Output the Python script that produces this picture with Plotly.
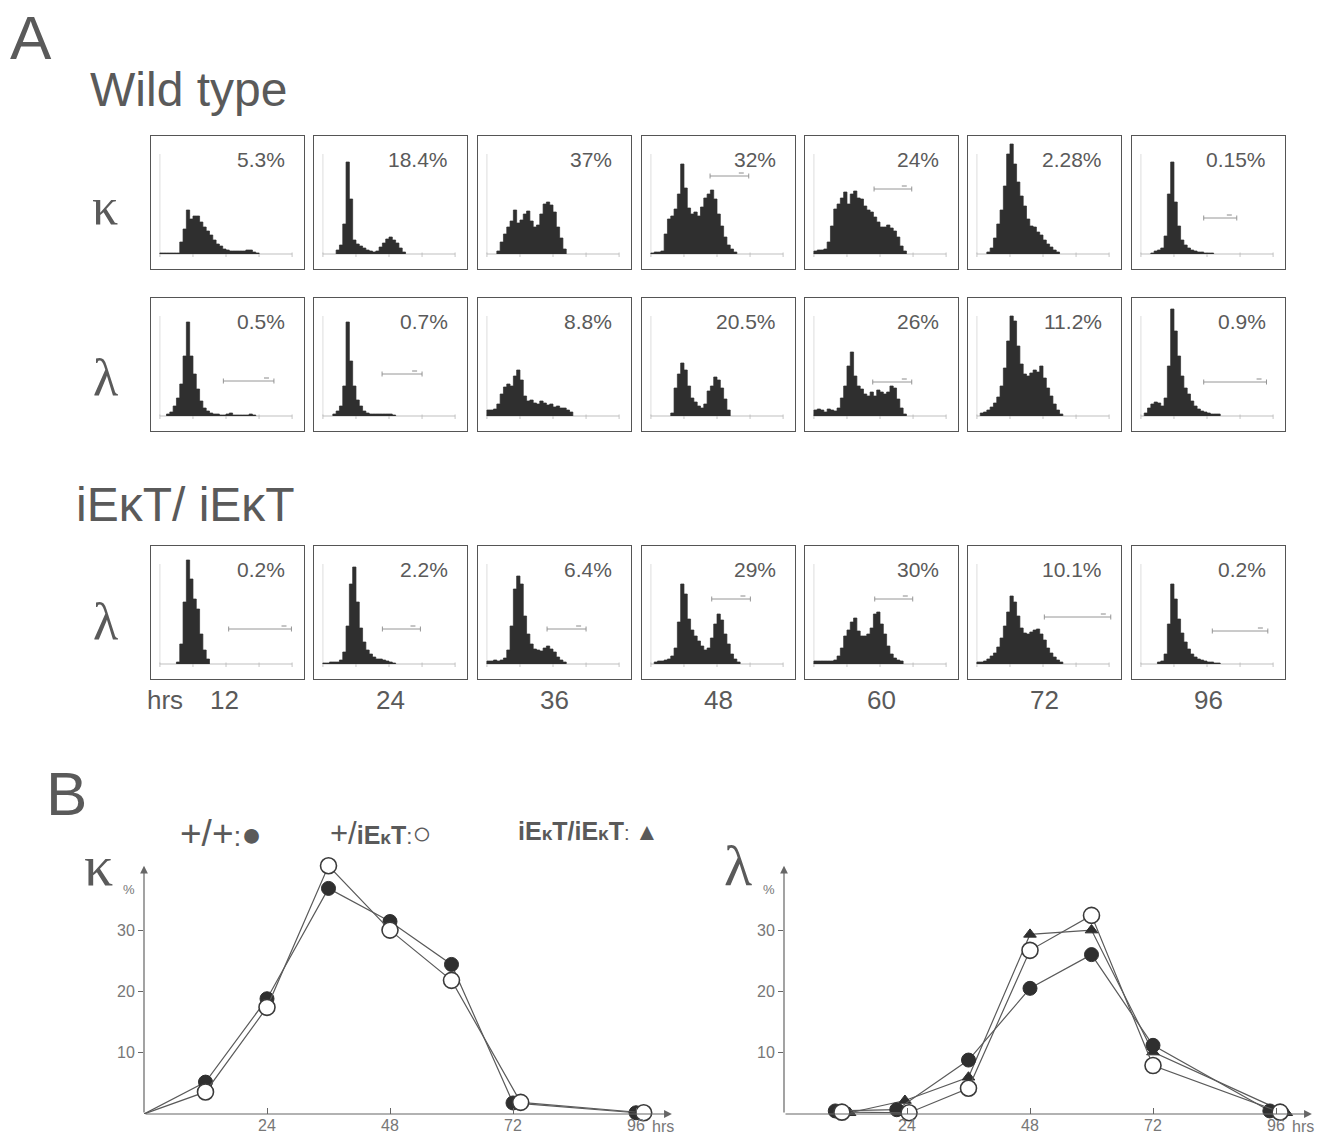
import plotly.graph_objects as go

W, H = 1329, 1138

# ---------------- data ----------------
hour_labels = ["12", "24", "36", "48", "60", "72", "96"]
row_labels = ["κ", "λ", "λ"]

pct_wt_kappa = ["5.3%", "18.4%", "37%", "32%", "24%", "2.28%", "0.15%"]
pct_wt_lambda = ["0.5%", "0.7%", "8.8%", "20.5%", "26%", "11.2%", "0.9%"]
pct_ko_lambda = ["0.2%", "2.2%", "6.4%", "29%", "30%", "10.1%", "0.2%"]

# FACS histograms: first bin (log10 decades) and counts per 0.1-decade bin
hist_wt_kappa_start = [0.0, 0.4, 0.3, 0.0, 0.0, 0.3, 0.3]
hist_wt_kappa = [
    [1, 1, 1, 1, 1, 1, 12, 25, 44, 35, 38, 38, 32, 27, 23, 19, 14, 10, 8, 5, 4, 3, 3, 3, 3, 3, 4, 4, 2, 1],
    [4, 9, 30, 92, 55, 14, 10, 8, 6, 4, 3, 2, 3, 7, 11, 15, 17, 14, 11, 6, 2],
    [3, 12, 20, 27, 33, 44, 31, 34, 40, 43, 33, 27, 29, 40, 50, 52, 49, 42, 27, 16, 5],
    [1, 2, 2, 3, 20, 35, 38, 45, 60, 90, 66, 46, 40, 42, 38, 47, 56, 60, 64, 55, 40, 28, 17, 9, 5, 2],
    [3, 4, 4, 5, 12, 28, 45, 50, 56, 62, 50, 60, 63, 56, 55, 48, 44, 42, 37, 32, 27, 27, 29, 26, 23, 17, 8, 3],
    [2, 6, 16, 30, 44, 68, 100, 110, 90, 72, 58, 48, 35, 28, 27, 22, 19, 14, 10, 7, 4, 2],
    [1, 3, 4, 6, 18, 60, 92, 52, 28, 14, 9, 6, 4, 3, 2, 2, 1, 1, 1],
]
hist_wt_lambda_start = [0.2, 0.3, 0.0, 0.6, 0.0, 0.1, 0.1]
hist_wt_lambda = [
    [2, 4, 10, 18, 32, 60, 94, 60, 42, 27, 15, 8, 5, 3, 2, 2, 1, 1, 2, 3, 1, 1, 1, 1, 1, 2, 1],
    [2, 5, 10, 30, 94, 55, 30, 16, 10, 5, 3, 2, 2, 2, 2, 2, 2, 2, 1],
    [6, 6, 7, 12, 22, 29, 32, 30, 40, 46, 36, 20, 15, 16, 13, 12, 15, 13, 11, 12, 9, 10, 8, 8, 6, 4],
    [3, 28, 42, 53, 46, 30, 18, 14, 10, 8, 12, 25, 30, 39, 36, 28, 17, 6],
    [6, 7, 6, 4, 7, 6, 5, 8, 18, 30, 50, 64, 40, 30, 27, 22, 20, 24, 20, 26, 24, 22, 24, 30, 28, 17, 8, 2],
    [3, 4, 6, 9, 13, 19, 30, 48, 75, 100, 95, 70, 52, 42, 40, 43, 46, 44, 50, 38, 28, 20, 12, 6, 2],
    [3, 8, 12, 14, 13, 10, 18, 50, 107, 85, 60, 40, 28, 22, 15, 10, 7, 5, 4, 3, 2, 2, 2],
]
hist_ko_lambda_start = [0.5, 0.0, 0.0, 0.1, 0.0, 0.0, 0.5]
hist_ko_lambda = [
    [2, 20, 62, 104, 85, 65, 55, 30, 14, 5],
    [1, 1, 2, 2, 2, 4, 12, 38, 80, 97, 62, 36, 22, 14, 10, 7, 5, 5, 4, 3, 2, 1],
    [3, 3, 4, 3, 4, 6, 14, 38, 75, 88, 80, 48, 30, 20, 15, 14, 13, 16, 18, 15, 12, 7, 4, 2],
    [2, 3, 3, 4, 5, 8, 16, 42, 80, 70, 45, 34, 28, 23, 18, 14, 16, 26, 40, 50, 44, 30, 20, 10, 5, 2],
    [3, 3, 3, 3, 3, 3, 4, 8, 16, 28, 34, 42, 46, 33, 28, 28, 30, 36, 50, 52, 40, 30, 18, 10, 6, 4, 3],
    [2, 2, 3, 5, 8, 11, 17, 26, 38, 52, 68, 62, 48, 36, 31, 30, 32, 34, 35, 30, 24, 16, 11, 7, 4, 2],
    [2, 3, 10, 40, 80, 65, 45, 31, 22, 15, 10, 7, 5, 4, 3, 2, 2, 1, 1],
]
# marker gates: (from decade, to decade, level) or None
gates_wt_kappa = [None, None, None, (1.79, 2.96, 78), (1.82, 2.96, 65), None, (1.9, 2.9, 36)]
gates_wt_lambda = [(1.92, 3.45, 35), (1.79, 3.0, 42), None, None, (1.78, 2.96, 34), None, (1.9, 3.8, 34)]
gates_ko_lambda = [(2.08, 3.98, 35), (1.8, 2.95, 35), (1.82, 3.0, 35), (1.84, 3.01, 65),
                   (1.84, 2.99, 65), (2.04, 4.05, 47), (2.16, 3.84, 33)]
BIN = 0.1

# Panel B: % positive cells vs hours (plotted hour positions)
kappa_wt_x = [0, 12, 24, 36, 48, 60, 72, 96]
kappa_wt = [0, 5.2, 18.8, 36.8, 31.4, 24.4, 1.8, 0.2]
kappa_het_x = [0, 12, 24, 36, 48, 60, 73.5, 97.5]
kappa_het = [0, 3.6, 17.4, 40.5, 30.0, 21.8, 1.9, 0.2]

lambda_wt_x = [10, 22, 36, 48, 60, 72, 94.8]
lambda_wt = [0.5, 0.7, 8.8, 20.5, 26.0, 11.2, 0.5]
lambda_het_x = [11.3, 24.4, 36, 48, 60, 72, 96.8]
lambda_het = [0.3, 0.2, 4.2, 26.7, 32.4, 7.9, 0.3]
lambda_ko_x = [12.8, 23.6, 36, 48, 60, 72, 98]
lambda_ko = [0.2, 2.2, 6.0, 29.3, 30.0, 10.1, 0.2]

b_tickvals = [24, 48, 72, 96]
b_yticks = [10, 20, 30]

# ---------------- styling ----------------
TEXT = "#5a5a5a"
BOX = "#555555"
HIST = "#2f2f2f"
FAINT = "#b8b8b8"
SANS = "Liberation Sans, Arial, sans-serif"
SERIF = "Liberation Serif, DejaVu Serif, serif"

col_left = [151, 314, 478, 642, 805, 968, 1132]
row_top = [136, 298, 546]
box_w, box_h = 153, 133

fig = go.Figure()
axes = {}
shapes = []
ann = []


def px_x(px):
    return px / W


def px_y(py):
    return 1 - py / H


def text(t, x, y, size, xanchor="left", yanchor="middle", color=TEXT, family=SANS):
    ann.append(dict(text=t, x=px_x(x), y=px_y(y), xref="paper", yref="paper",
                    xanchor=xanchor, yanchor=yanchor, showarrow=False,
                    font=dict(size=size, color=color, family=family)))


rows = [
    (hist_wt_kappa_start, hist_wt_kappa, pct_wt_kappa, gates_wt_kappa),
    (hist_wt_lambda_start, hist_wt_lambda, pct_wt_lambda, gates_wt_lambda),
    (hist_ko_lambda_start, hist_ko_lambda, pct_ko_lambda, gates_ko_lambda),
]

n = 0
for r, (starts, hists, pcts, gates) in enumerate(rows):
    for c in range(7):
        n += 1
        xa = "xaxis" if n == 1 else f"xaxis{n}"
        ya = "yaxis" if n == 1 else f"yaxis{n}"
        xr = "x" if n == 1 else f"x{n}"
        yr = "y" if n == 1 else f"y{n}"
        left, top = col_left[c], row_top[r]
        common = dict(showline=True, mirror=True, linecolor=BOX, linewidth=1.3,
                      showticklabels=False, ticks="", showgrid=False, zeroline=False,
                      fixedrange=True)
        axes[xa] = dict(domain=[px_x(left), px_x(left + box_w)], range=[-0.27, 4.36],
                        anchor=yr, **common)
        axes[ya] = dict(domain=[px_y(top + box_h), px_y(top)], range=[-15, 118],
                        anchor=xr, **common)
        # faint inner FACS axes
        shapes.append(dict(type="line", xref=xr, yref=yr, x0=0, x1=4, y0=0, y1=0,
                           line=dict(color=FAINT, width=0.9), layer="below"))
        shapes.append(dict(type="line", xref=xr, yref=yr, x0=0, x1=0, y0=0, y1=100,
                           line=dict(color="#d4d4d4", width=0.8), layer="below"))
        for d in range(5):
            shapes.append(dict(type="line", xref=xr, yref=yr, x0=d, x1=d, y0=-3, y1=1.5,
                               line=dict(color=FAINT, width=0.8), layer="below"))
        s = starts[c]
        counts = hists[c]
        xs = [s] + [s + i * BIN for i in range(len(counts) + 1)]
        ys = [0] + counts + [0]
        fig.add_trace(go.Scatter(x=xs, y=ys, xaxis=xr, yaxis=yr, mode="lines",
                                 line=dict(width=0.7, color=HIST, shape="hv"),
                                 fill="tozeroy", fillcolor=HIST, hoverinfo="skip",
                                 showlegend=False))
        g = gates[c]
        if g is not None:
            g0, g1, lv = g
            shapes.append(dict(type="line", xref=xr, yref=yr, x0=g0, x1=g1, y0=lv, y1=lv,
                               line=dict(color="#8a8a8a", width=0.9)))
            for gx in (g0, g1):
                shapes.append(dict(type="line", xref=xr, yref=yr, x0=gx, x1=gx,
                                   y0=lv - 2.5, y1=lv + 2.5,
                                   line=dict(color="#8a8a8a", width=0.9)))
            shapes.append(dict(type="line", xref=xr, yref=yr, x0=g1 - 0.3, x1=g1 - 0.15,
                               y0=lv + 3, y1=lv + 3, line=dict(color="#8a8a8a", width=1)))
        text(pcts[c], left + box_w - 17, top + 23, 21, xanchor="right")

# Panel A labels
text("A", 8, 38, 62)
text("Wild type", 88, 90, 48)
text("iEκT/ iEκT", 74, 505, 48)
label_y = [206, 377, 621]
for r in range(3):
    text(row_labels[r], 105, label_y[r], 52, xanchor="center", family=SERIF)
text("hrs", 145, 700, 26)
for c in range(7):
    cx = col_left[c] + box_w / 2 + (-3 if c == 0 else 0)
    text(hour_labels[c], cx, 700, 26, xanchor="center")

# ---------------- Panel B ----------------
text("B", 44, 793, 62)
text("+/+<span style='font-size:28px'>:</span><span style='font-size:34px'>●</span>", 178, 833, 37)
text("+/<b><span style='font-size:25px'>iE</span><span style='font-size:19px'>κ</span>"
     "<span style='font-size:25px'>T</span></b><span style='font-size:22px'>:</span>"
     "<span style='font-size:32px'>○</span>", 328, 833, 31)
text("<b>iE<span style='font-size:19px'>κ</span>T/iE<span style='font-size:19px'>κ</span>T</b>"
     "<span style='font-size:20px'>: </span><span style='font-size:24px'>▲</span>", 516, 831, 25)

Y_TOP = 42
plots_b = [
    ("x22", "y22", 144, "κ",
     [(kappa_wt_x, kappa_wt, "filled"), (kappa_het_x, kappa_het, "open")]),
    ("x23", "y23", 784, "λ",
     [(lambda_ko_x, lambda_ko, "tri"), (lambda_wt_x, lambda_wt, "filled"),
      (lambda_het_x, lambda_het, "open")]),
]
marker_styles = {
    "filled": dict(symbol="circle", size=14, color="#2f2f2f", line=dict(color="#2f2f2f", width=1)),
    "open": dict(symbol="circle", size=16, color="white", line=dict(color="#3a3a3a", width=1.6)),
    "tri": dict(symbol="triangle-up", size=11, color="#2f2f2f", line=dict(color="#2f2f2f", width=1)),
}
x_end = 102
for xr, yr, x0px, glyph, series in plots_b:
    num = xr[1:]
    axes["xaxis" + num] = dict(domain=[px_x(x0px), px_x(x0px + x_end * 5.125)], range=[0, x_end],
                               anchor=yr, showline=False, showgrid=False, zeroline=False,
                               tickvals=b_tickvals, ticks="inside", ticklen=6, tickcolor="#666",
                               tickwidth=1, tickfont=dict(size=16, color="#777", family=SANS),
                               fixedrange=True)
    axes["yaxis" + num] = dict(domain=[px_y(1114), px_y(1114 - Y_TOP * 6.13)], range=[0, Y_TOP],
                               anchor=xr, showline=False, showgrid=False, zeroline=False,
                               tickvals=b_yticks, ticks="outside", ticklen=5, tickcolor="#666",
                               tickwidth=1, tickfont=dict(size=16, color="#777", family=SANS),
                               fixedrange=True)
    for xs, ys, kind in series:
        st = dict(marker_styles[kind])
        # the curves start at the origin without a symbol there
        sizes = [0 if (xv == 0 and yv == 0) else st["size"] for xv, yv in zip(xs, ys)]
        st["size"] = sizes
        st["opacity"] = 1
        st["line"] = dict(color=st["line"]["color"],
                          width=[0 if sz == 0 else st["line"]["width"] for sz in sizes])
        fig.add_trace(go.Scatter(x=xs, y=ys, xaxis=xr, yaxis=yr, mode="lines+markers",
                                 line=dict(color="#5a5a5a", width=1.2),
                                 marker=st, cliponaxis=False,
                                 hoverinfo="skip", showlegend=False))
    # axes with arrows
    ann.append(dict(x=x_end + 1, y=0, ax=0, ay=0, xref=xr, yref=yr, axref=xr, ayref=yr,
                    text="", showarrow=True, arrowhead=2, arrowsize=1.3, arrowwidth=1.2,
                    arrowcolor="#666"))
    ann.append(dict(x=0, y=40.5, ax=0, ay=0, xref=xr, yref=yr, axref=xr, ayref=yr,
                    text="", showarrow=True, arrowhead=2, arrowsize=1.3, arrowwidth=1.2,
                    arrowcolor="#666"))
    ann.append(dict(text="hrs", x=98.8, y=px_y(1126), xref=xr, yref="paper", xanchor="left",
                    yanchor="middle", showarrow=False,
                    font=dict(size=16, color="#777", family=SANS)))
    text(glyph, x0px - 46, 866, 58, xanchor="center", family=SERIF)
    text("%", x0px - 15, 889, 13, xanchor="center", color="#777")

fig.update_layout(
    width=W, height=H, autosize=False,
    margin=dict(l=0, r=0, t=0, b=0),
    paper_bgcolor="white", plot_bgcolor="rgba(0,0,0,0)",
    font=dict(family=SANS, color=TEXT),
    shapes=shapes, annotations=ann, showlegend=False,
    **axes,
)

fig.write_html("out.html", config=dict(displayModeBar=False),
               post_script="document.body.style.margin='0px';document.body.style.overflow='hidden';")
